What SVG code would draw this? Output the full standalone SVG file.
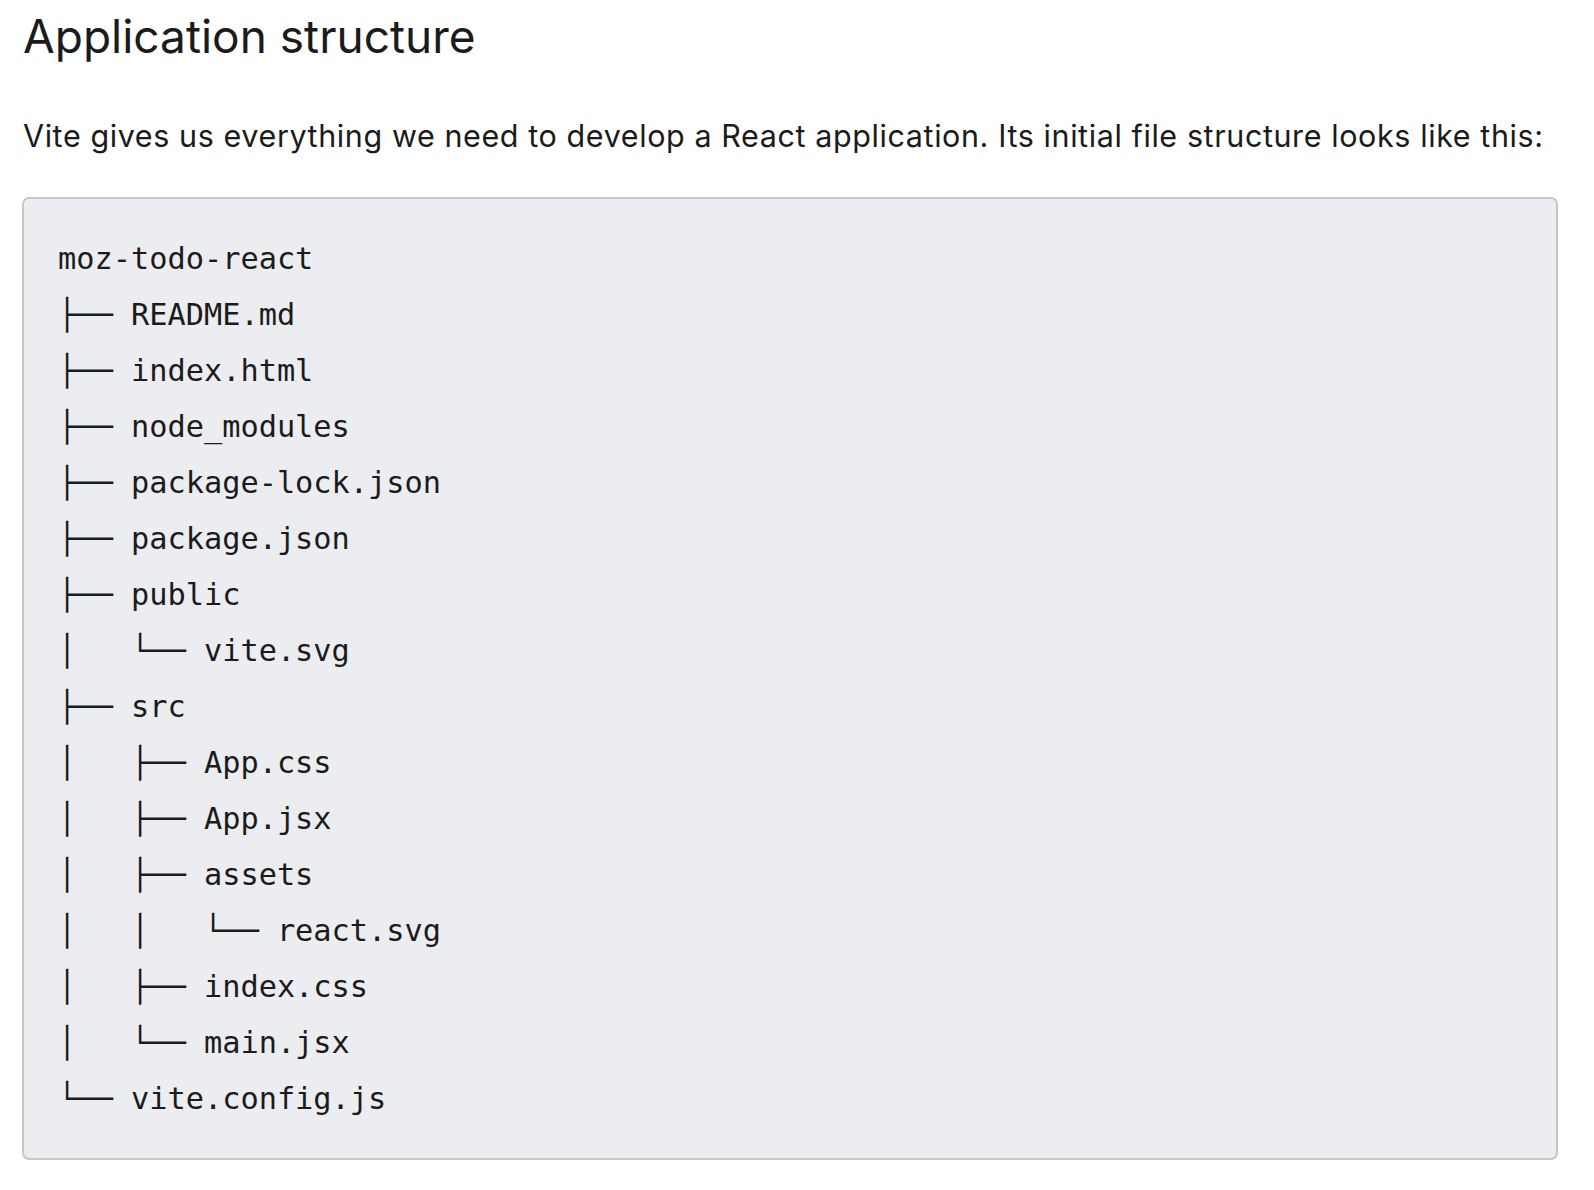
<svg xmlns="http://www.w3.org/2000/svg" width="1594" height="1190" viewBox="0 0 1594 1190">
<style>
.bg{fill:#ffffff}
.h{font-family:Inter,"Noto Sans","Liberation Sans",sans-serif;font-size:46px;fill:#1b1b1b}
.p{font-family:Inter,"Noto Sans","Liberation Sans",sans-serif;font-size:30.5px;fill:#1b1b1b}
.box{fill:#ecedf0;stroke:#c5c7cb;stroke-width:2}
.m{font-family:"DejaVu Sans Mono","Liberation Mono",monospace;font-size:30.3px;fill:#1b1b1b;white-space:pre}
</style>
<rect class="bg" x="0" y="0" width="1594" height="1190"/>
<g id="heading"><text class="h" x="23" y="53">Application structure</text></g>
<g id="intro"><text class="p" x="23" y="147" textLength="1520" lengthAdjust="spacing">Vite gives us everything we need to develop a React application. Its initial file structure looks like this:</text></g>
<g id="codebox">
<rect class="box" x="23" y="198" width="1534" height="961" rx="6"/>
</g>
<g id="tree">
<text class="m" xml:space="preserve" x="58" y="269">moz-todo-react</text>
<text class="m" xml:space="preserve" x="58" y="325">├── README.md</text>
<text class="m" xml:space="preserve" x="58" y="381">├── index.html</text>
<text class="m" xml:space="preserve" x="58" y="437">├── node_modules</text>
<text class="m" xml:space="preserve" x="58" y="493">├── package-lock.json</text>
<text class="m" xml:space="preserve" x="58" y="549">├── package.json</text>
<text class="m" xml:space="preserve" x="58" y="605">├── public</text>
<text class="m" xml:space="preserve" x="58" y="661">│   └── vite.svg</text>
<text class="m" xml:space="preserve" x="58" y="717">├── src</text>
<text class="m" xml:space="preserve" x="58" y="773">│   ├── App.css</text>
<text class="m" xml:space="preserve" x="58" y="829">│   ├── App.jsx</text>
<text class="m" xml:space="preserve" x="58" y="885">│   ├── assets</text>
<text class="m" xml:space="preserve" x="58" y="941">│   │   └── react.svg</text>
<text class="m" xml:space="preserve" x="58" y="997">│   ├── index.css</text>
<text class="m" xml:space="preserve" x="58" y="1053">│   └── main.jsx</text>
<text class="m" xml:space="preserve" x="58" y="1109">└── vite.config.js</text>
</g>
</svg>
